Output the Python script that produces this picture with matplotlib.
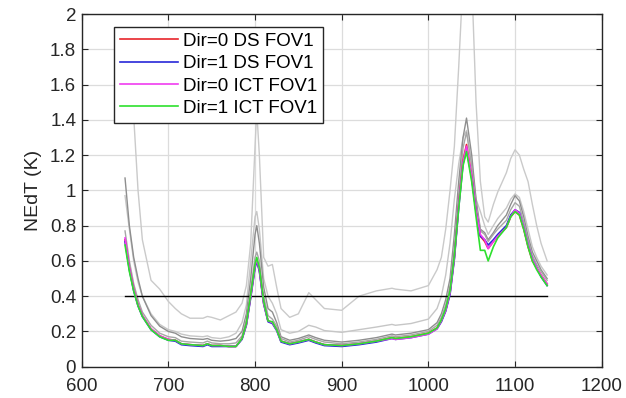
import matplotlib
matplotlib.use("Agg")
import matplotlib.pyplot as plt
from matplotlib.ticker import FuncFormatter, MultipleLocator

plt.rcParams['font.family'] = ['Liberation Sans', 'DejaVu Sans']

wn = [650, 655, 660, 665, 670, 680, 690, 700, 708, 715, 725, 740, 745, 750, 760, 770, 778, 785,
      790, 795, 800, 802, 805, 810, 815, 820, 825, 830, 840, 850, 862, 870, 880, 900, 920, 940,
      958, 962, 980, 1000, 1010, 1015, 1020, 1025, 1030, 1035, 1040, 1044, 1050, 1055, 1060,
      1065, 1069, 1075, 1080, 1090, 1095, 1100, 1105, 1110, 1115, 1120, 1125, 1130, 1137]

gray_high = [1.60, 1.50, 1.42, 1.00, 0.72, 0.49, 0.44, 0.37, 0.33, 0.30, 0.275, 0.275, 0.285, 0.28,
             0.265, 0.29, 0.31, 0.36, 0.46, 0.70, 1.25, 1.45, 1.20, 0.62, 0.57, 0.58, 0.45, 0.33,
             0.28, 0.30, 0.42, 0.38, 0.33, 0.32, 0.40, 0.43, 0.445, 0.44, 0.43, 0.46, 0.55, 0.62,
             0.78, 1.00, 1.25, 1.70, 2.20, 2.40, 2.20, 1.50, 1.05, 0.85, 0.82, 0.92, 0.99, 1.10,
             1.18, 1.23, 1.20, 1.12, 1.05, 0.92, 0.80, 0.70, 0.60]

gray_light = [0.97, 0.78, 0.60, 0.48, 0.40, 0.30, 0.24, 0.21, 0.20, 0.185, 0.175, 0.17, 0.175, 0.165,
              0.16, 0.17, 0.19, 0.25, 0.35, 0.60, 0.85, 0.88, 0.78, 0.50, 0.40, 0.36, 0.30, 0.21,
              0.19, 0.20, 0.235, 0.225, 0.205, 0.195, 0.21, 0.225, 0.24, 0.235, 0.245, 0.27, 0.33,
              0.40, 0.52, 0.70, 0.95, 1.15, 1.30, 1.34, 1.15, 0.95, 0.88, 0.80, 0.75, 0.80, 0.84,
              0.90, 0.95, 0.98, 0.96, 0.88, 0.78, 0.68, 0.62, 0.57, 0.52]

gray_dark = [1.07, 0.80, 0.62, 0.50, 0.40, 0.29, 0.23, 0.20, 0.19, 0.17, 0.16, 0.155, 0.16, 0.15,
             0.145, 0.15, 0.16, 0.20, 0.30, 0.50, 0.75, 0.80, 0.70, 0.45, 0.33, 0.31, 0.25, 0.17,
             0.15, 0.16, 0.18, 0.165, 0.15, 0.14, 0.15, 0.165, 0.185, 0.18, 0.19, 0.21, 0.25, 0.30,
             0.38, 0.50, 0.75, 1.05, 1.30, 1.41, 1.20, 0.95, 0.78, 0.76, 0.72, 0.76, 0.80, 0.86,
             0.92, 0.97, 0.94, 0.85, 0.74, 0.65, 0.60, 0.55, 0.50]

gray_mid = [0.77, 0.60, 0.47, 0.38, 0.31, 0.235, 0.19, 0.17, 0.165, 0.145, 0.14, 0.135, 0.145, 0.135,
            0.13, 0.13, 0.135, 0.175, 0.27, 0.44, 0.62, 0.65, 0.60, 0.40, 0.29, 0.27, 0.23, 0.16,
            0.14, 0.15, 0.17, 0.155, 0.14, 0.13, 0.14, 0.155, 0.175, 0.17, 0.18, 0.20, 0.235, 0.28,
            0.35, 0.46, 0.68, 0.98, 1.24, 1.33, 1.14, 0.92, 0.77, 0.75, 0.71, 0.75, 0.78, 0.83,
            0.89, 0.93, 0.91, 0.82, 0.72, 0.63, 0.58, 0.54, 0.49]

dir0_ds = [0.72, 0.56, 0.44, 0.35, 0.29, 0.215, 0.175, 0.155, 0.15, 0.13, 0.125, 0.12, 0.13, 0.12,
           0.12, 0.115, 0.115, 0.16, 0.24, 0.40, 0.57, 0.60, 0.55, 0.36, 0.26, 0.25, 0.21, 0.145,
           0.13, 0.14, 0.155, 0.14, 0.125, 0.12, 0.13, 0.145, 0.165, 0.16, 0.17, 0.19, 0.22, 0.26,
           0.32, 0.42, 0.62, 0.92, 1.17, 1.26, 1.08, 0.88, 0.74, 0.71, 0.67, 0.71, 0.74, 0.79,
           0.85, 0.88, 0.86, 0.78, 0.68, 0.60, 0.56, 0.52, 0.47]

dir1_ds = [0.71, 0.55, 0.43, 0.345, 0.285, 0.21, 0.17, 0.15, 0.145, 0.125, 0.12, 0.115, 0.125, 0.115,
           0.115, 0.115, 0.115, 0.155, 0.235, 0.39, 0.56, 0.60, 0.54, 0.355, 0.255, 0.245, 0.205, 0.14,
           0.125, 0.135, 0.15, 0.135, 0.12, 0.115, 0.125, 0.14, 0.16, 0.155, 0.165, 0.185, 0.215, 0.255,
           0.315, 0.41, 0.61, 0.90, 1.15, 1.23, 1.07, 0.88, 0.74, 0.72, 0.69, 0.72, 0.75, 0.80,
           0.86, 0.89, 0.875, 0.79, 0.69, 0.61, 0.56, 0.51, 0.46]

dir0_ict = [0.73, 0.56, 0.44, 0.35, 0.29, 0.215, 0.175, 0.155, 0.15, 0.13, 0.125, 0.12, 0.13, 0.12,
            0.12, 0.115, 0.115, 0.16, 0.24, 0.40, 0.57, 0.61, 0.55, 0.36, 0.26, 0.25, 0.21, 0.145,
            0.13, 0.14, 0.155, 0.14, 0.125, 0.12, 0.13, 0.145, 0.16, 0.155, 0.165, 0.185, 0.215, 0.26,
            0.32, 0.42, 0.62, 0.92, 1.16, 1.25, 1.08, 0.88, 0.75, 0.72, 0.67, 0.71, 0.74, 0.79,
            0.85, 0.89, 0.87, 0.79, 0.69, 0.61, 0.56, 0.52, 0.47]

dir1_ict = [0.69, 0.54, 0.43, 0.345, 0.285, 0.21, 0.17, 0.15, 0.15, 0.13, 0.125, 0.12, 0.13, 0.12,
            0.12, 0.115, 0.115, 0.16, 0.245, 0.41, 0.58, 0.62, 0.56, 0.37, 0.26, 0.255, 0.21, 0.145,
            0.13, 0.14, 0.155, 0.14, 0.125, 0.12, 0.13, 0.145, 0.165, 0.16, 0.17, 0.19, 0.22, 0.265,
            0.33, 0.43, 0.63, 0.90, 1.14, 1.22, 1.05, 0.85, 0.66, 0.66, 0.60, 0.68, 0.73, 0.79,
            0.85, 0.88, 0.86, 0.78, 0.68, 0.60, 0.55, 0.51, 0.46]

threshold_x = [650, 1137]
threshold_y = [0.4, 0.4]

labels = ['Dir=0 DS FOV1', 'Dir=1 DS FOV1', 'Dir=0 ICT FOV1', 'Dir=1 ICT FOV1']

fig = plt.figure(figsize=(6.26, 3.98), dpi=100)
ax = fig.add_axes([0.1305, 0.0786, 0.8307, 0.8862])

for ys, c in [(gray_high, '#cacaca'), (gray_light, '#c6c6c6'), (gray_dark, '#8e8e8e'), (gray_mid, '#a6a6a6')]:
    ax.plot(wn, ys, color=c, lw=1.0, zorder=2)

ax.plot(threshold_x, threshold_y, color='black', lw=1.0, zorder=3)

colors = ['#e8252b', '#2727d8', '#f03cf0', '#2ee02e']
for ys, c, lab in zip([dir0_ds, dir1_ds, dir0_ict, dir1_ict], colors, labels):
    ax.plot(wn, ys, color=c, lw=1.2, label=lab, zorder=4)

ax.set_xlim(600, 1200)
ax.set_ylim(0, 2)
ax.xaxis.set_major_locator(MultipleLocator(100))
ax.yaxis.set_major_locator(MultipleLocator(0.2))
ax.yaxis.set_major_formatter(FuncFormatter(lambda v, p: f'{v:g}'))
ax.grid(True, color='#dcdcdc', lw=0.9)
ax.set_axisbelow(True)
ax.tick_params(direction='in', length=4, width=0.8, top=True, right=True, labelsize=13.5, colors='#262626', pad=4)
ax.tick_params(axis='x', pad=8)
for s in ax.spines.values():
    s.set_color('#262626')
    s.set_linewidth(1.0)
ax.set_ylabel('NEdT (K)', fontsize=14, color='#262626', labelpad=6)

leg = ax.legend(loc='upper left', bbox_to_anchor=(0.062, 0.963), borderaxespad=0, fontsize=13.5,
                frameon=True, fancybox=False, framealpha=1, edgecolor='#262626', handlelength=3.1,
                handletextpad=0.3, labelspacing=0.28, borderpad=0.3)
leg.get_frame().set_linewidth(1.0)
leg.set_zorder(10)

fig.savefig('out.png', dpi=100)
